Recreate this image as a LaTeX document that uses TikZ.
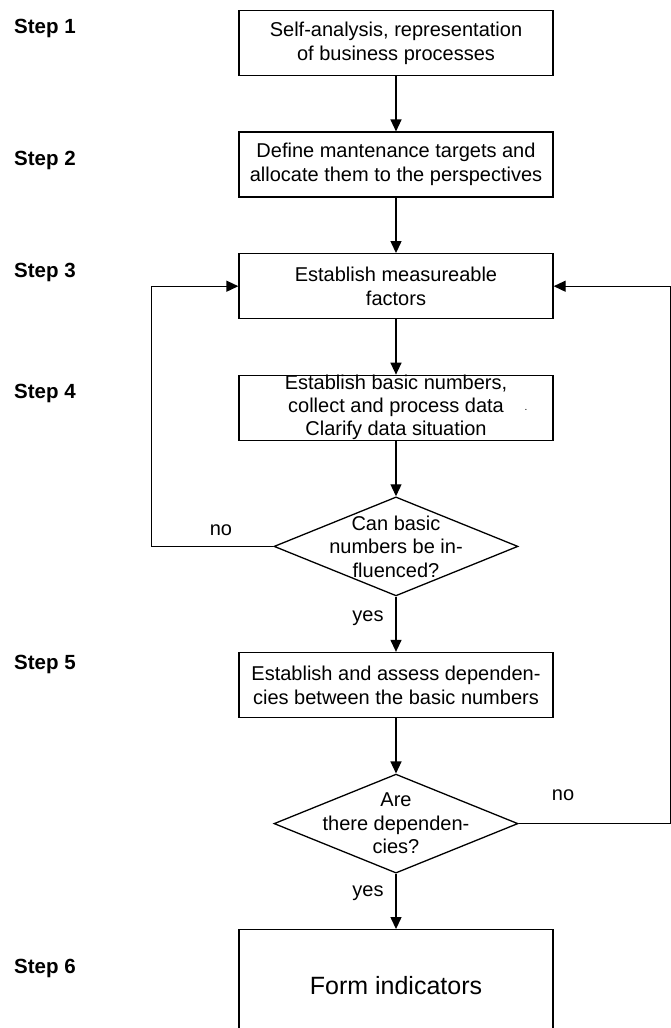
\documentclass[tikz,border=0pt]{standalone}
\usepackage{fontspec}
\setmainfont{Liberation Sans}
\usepackage{tikz}
\usetikzlibrary{shapes.geometric, arrows.meta, positioning}

\begin{document}
\begin{tikzpicture}[x=1pt, y=-1pt, node distance=55.3pt,
  box/.style={draw, line width=1.3pt, minimum width=314pt, minimum height=65pt,
    inner ysep=0pt, align=center, font=\fontsize{20}{24}\selectfont},
  decision/.style={draw, line width=1.3pt, diamond, minimum width=244pt,
    minimum height=99pt, inner sep=0pt},
  dtext/.style={align=center, inner sep=0pt, font=\fontsize{20}{23.5}\selectfont},
  steplabel/.style={anchor=base west, inner sep=0pt, font=\fontsize{20.5}{24}\selectfont\bfseries},
  lbl/.style={inner sep=0pt, font=\fontsize{20}{24}\selectfont},
  arrow/.style={-{Triangle[length=12pt, width=11pt]}, line width=1.3pt}]
  \useasboundingbox (0,0) rectangle (671,1028);
  % main column
  \node[box] (b1) at (396,43) {Self-analysis, representation\\of business processes};
  \node[box, below=of b1] (b2) {Define mantenance targets and\\allocate them to the perspectives};
  \node[box, below=of b2] (b3) {Establish measureable\\factors};
  \node[box, below=of b3, font=\fontsize{20}{23}\selectfont] (b4) {Establish basic numbers,\\collect and process data\\Clarify data situation};
  \node[decision, below=of b4,
    label={[dtext]center:Can basic\\numbers be in-\\fluenced?}] (d1) {};
  \node[box, below=of d1] (b5) {Establish and assess dependen-\\cies between the basic numbers};
  \node[decision, below=of b5,
    label={[dtext]center:Are\\there dependen-\\cies?}] (d2) {};
  \node[box, below=of d2, minimum height=112pt, font=\fontsize{25}{30}\selectfont] (b6) {Form indicators};
  \node[font=\fontsize{10}{10}\selectfont, inner sep=0pt] (dot) at (526,410) {.};
  % step labels
  \node[steplabel] (s1) at (14,33) {Step 1};
  \node[steplabel] (s2) at (14,165) {Step 2};
  \node[steplabel] (s3) at (14,277) {Step 3};
  \node[steplabel] (s4) at (14,398) {Step 4};
  \node[steplabel] (s5) at (14,669) {Step 5};
  \node[steplabel] (s6) at (14,973) {Step 6};
  % answers
  \node[lbl] (no1) at (221,530) {no};
  \node[lbl] (yes1) at (368,618) {yes};
  \node[lbl] (no2) at (563,795) {no};
  \node[lbl] (yes2) at (368,893) {yes};
  % loop corners
  \coordinate (lft) at ([xshift=-122pt]d1.west);
  \coordinate (rgt) at ([xshift=152pt]d2.east);
  \draw[arrow] (b1) -- (b2);
  \draw[arrow] (b2) -- (b3);
  \draw[arrow] (b3) -- (b4);
  \draw[arrow] (b4) -- (d1);
  \draw[arrow] (d1) -- (b5);
  \draw[arrow] (b5) -- (d2);
  \draw[arrow] (d2) -- (b6);
  \draw[arrow] (d1.west) -- (lft) |- (b3.west);
  \draw[arrow] (d2.east) -- (rgt) |- (b3.east);
\end{tikzpicture}
\end{document}
